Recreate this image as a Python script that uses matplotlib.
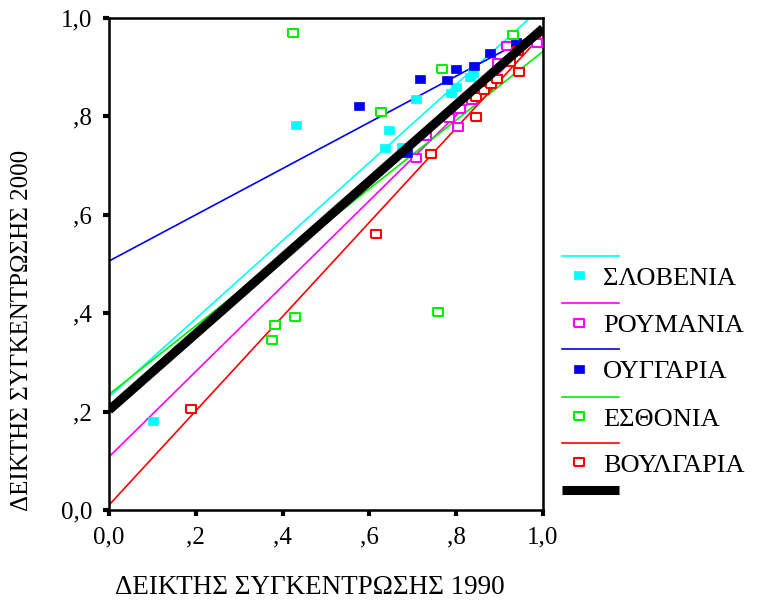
import matplotlib
matplotlib.use('Agg')
import matplotlib.pyplot as plt
import numpy as np

plt.rcParams['font.family'] = ['Liberation Serif', 'DejaVu Serif']

# values
slovenia_x = [0.101, 0.432, 0.636, 0.646, 0.674, 0.708, 0.787, 0.800, 0.832, 0.839]
slovenia_y = [0.181, 0.782, 0.735, 0.772, 0.738, 0.835, 0.848, 0.860, 0.881, 0.888]

romania_x = [0.707, 0.730, 0.784, 0.803, 0.809, 0.836, 0.870, 0.893, 0.897, 0.916, 0.986]
romania_y = [0.715, 0.760, 0.796, 0.779, 0.816, 0.833, 0.864, 0.877, 0.908, 0.944, 0.950]

hungary_x = [0.575, 0.686, 0.717, 0.778, 0.799, 0.840, 0.879, 0.937]
hungary_y = [0.822, 0.725, 0.876, 0.873, 0.896, 0.903, 0.929, 0.952]

estonia_x = [0.376, 0.382, 0.428, 0.423, 0.626, 0.759, 0.768, 0.931]
estonia_y = [0.346, 0.376, 0.393, 0.970, 0.809, 0.403, 0.896, 0.966]

bulgaria_x = [0.189, 0.616, 0.742, 0.845, 0.845, 0.864, 0.880, 0.893, 0.924, 0.945, 0.943]
bulgaria_y = [0.206, 0.561, 0.723, 0.799, 0.840, 0.854, 0.866, 0.876, 0.911, 0.891, 0.932]

# fit lines: (value at x=0, slope)
fit_slovenia = (0.230, 0.794)
fit_romania = (0.108, 0.868)
fit_hungary = (0.506, 0.470)
fit_estonia = (0.235, 0.697)
fit_bulgaria = (0.010, 0.958)
fit_total = (0.203, 0.776)

names = ['ΣΛΟΒΕΝΙΑ', 'ΡΟΥΜΑΝΙΑ', 'ΟΥΓΓΑΡΙΑ', 'ΕΣΘΟΝΙΑ', 'ΒΟΥΛΓΑΡΙΑ']
colors = ['#00FFFF', '#FF00FF', '#0000F0', '#00F000', '#FF0000']
filled = [True, False, True, False, False]
xs = [slovenia_x, romania_x, hungary_x, estonia_x, bulgaria_x]
ys = [slovenia_y, romania_y, hungary_y, estonia_y, bulgaria_y]
fits = [fit_slovenia, fit_romania, fit_hungary, fit_estonia, fit_bulgaria]

ticks = [0.0, 0.2, 0.4, 0.6, 0.8, 1.0]
tick_labels = ['0,0', ',2', ',4', ',6', ',8', '1,0']

# wide rectangle marker
rect = [(-1.3, -1), (1.3, -1), (1.3, 1), (-1.3, 1), (-1.3, -1)]

fig = plt.figure(figsize=(7.57, 6.02), dpi=100)
ax = fig.add_axes([109 / 757, 92 / 602, 434 / 757, 492 / 602])

lx = np.array([0.0, 1.0])
for x, y, c, f, (b, m) in zip(xs, ys, colors, filled, fits):
    ax.plot(lx, b + m * lx, color=c, lw=1.2, zorder=2)
for x, y, c, f, (b, m) in zip(xs, ys, colors, filled, fits):
    if f:
        ax.plot(x, y, ls='none', marker=rect, ms=7.5, mfc=c, mec=c, mew=0.5, zorder=3)
    else:
        ax.plot(x, y, ls='none', marker=rect, ms=7.5, mfc='white', mec=c, mew=1.5, zorder=3)
b, m = fit_total
ax.plot(lx, b + m * lx, color='black', lw=6.5, solid_capstyle='butt', zorder=4)

ax.set_xlim(0, 1)
ax.set_ylim(0, 1)
ax.set_xticks(ticks)
ax.set_xticklabels(tick_labels)
ax.set_yticks(ticks)
ax.set_yticklabels(tick_labels)
ax.tick_params(direction='out', length=4, width=3, labelsize=18, pad=8)
for s in ax.spines.values():
    s.set_linewidth(1.8)
    s.set_color('black')

fig.text(310 / 757, 1 - 588 / 602, 'ΔΕΙΚΤΗΣ ΣΥΓΚΕΝΤΡΩΣΗΣ 1990', ha='center', va='center', fontsize=19.5)
fig.text(22 / 757, 1 - 330 / 602, 'ΔΕΙΚΤΗΣ ΣΥΓΚΕΝΤΡΩΣΗΣ 2000', ha='center', va='center',
         rotation=90, fontsize=18)

# legend drawn in pixel space
lg = fig.add_axes([0, 0, 1, 1], facecolor='none')
lg.set_xlim(0, 757)
lg.set_ylim(602, 0)
lg.axis('off')
line_y = [255.7, 303, 349, 396.7, 442.7]
for i, (c, f, n) in enumerate(zip(colors, filled, names)):
    yl = line_y[i]
    lg.plot([562, 619], [yl, yl], color=c, lw=1.2)
    if f:
        lg.plot([579], [yl + 19.5], ls='none', marker=rect, ms=7.5, mfc=c, mec=c, mew=0.5)
    else:
        lg.plot([579], [yl + 19.5], ls='none', marker=rect, ms=7.5, mfc='white', mec=c, mew=1.5)
    lg.text(603, yl + 23, n, ha='left', va='center', fontsize=19)
lg.plot([562, 619], [490, 490], color='black', lw=6.5, solid_capstyle='butt')

fig.savefig('out.png', dpi=100)
